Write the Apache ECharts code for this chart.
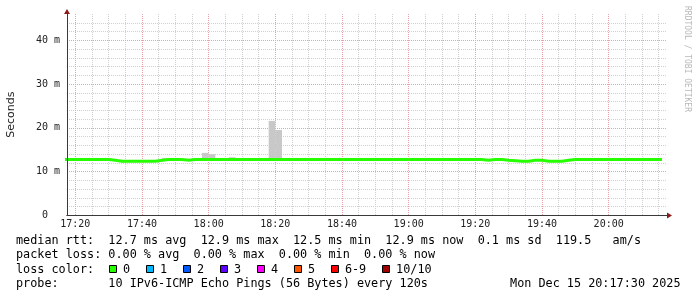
<!DOCTYPE html>
<html><head><meta charset="utf-8">
<script src="https://cdn.jsdelivr.net/npm/echarts@6/dist/echarts.min.js"></script>
<style>html,body{margin:0;padding:0;background:#fff}#c{width:697px;height:297px}</style>
</head><body><div id="c"></div>
<script>
// ---------- data ----------
const firstSampleTime = '17:16';       // time of first median sample (end of its 120 s step)
const stepMinutes = 2;                  // probe every 120 s
const viewStart = '17:17:30';
const viewEnd = '20:17:30';
const medianRttMs = [
  12.8, 12.8, 12.8, 12.8, 12.8, 12.8, 12.8, 12.8, 12.6, 12.4,
  12.4, 12.4, 12.4, 12.4, 12.4, 12.6, 12.8, 12.8, 12.8, 12.6,
  12.8, 12.8, 12.8, 12.8, 12.8, 12.8, 12.8, 12.8, 12.8, 12.8,
  12.8, 12.8, 12.8, 12.8, 12.8, 12.8, 12.8, 12.8, 12.8, 12.8,
  12.8, 12.8, 12.8, 12.8, 12.8, 12.8, 12.8, 12.8, 12.8, 12.8,
  12.8, 12.8, 12.8, 12.8, 12.8, 12.8, 12.8, 12.8, 12.8, 12.8,
  12.8, 12.8, 12.8, 12.8, 12.6, 12.8, 12.8, 12.6, 12.5, 12.4,
  12.4, 12.6, 12.6, 12.4, 12.4, 12.4, 12.6, 12.8, 12.8, 12.8,
  12.8, 12.8, 12.8, 12.8, 12.8, 12.8, 12.8, 12.8, 12.8, 12.8,
  12.8
];
const smokeTimes = ['17:48', '18:00', '18:02', '18:08', '18:20', '18:22'];
const smokeMaxMs = [13.1, 14.3, 14.0, 13.3, 21.6, 19.5];
const yMaxMs = 46;
const yMinorStep = 2;
const yMajorStep = 10;
const xMinorStep = 5;
const xMajorStep = 20;

const statsLines = [
  'median rtt:  12.7 ms avg  12.9 ms max  12.5 ms min  12.9 ms now  0.1 ms sd  119.5   am/s',
  'packet loss: 0.00 % avg  0.00 % max  0.00 % min  0.00 % now',
  'loss color:',
  'probe:       10 IPv6-ICMP Echo Pings (56 Bytes) every 120s'
];
const dateText = 'Mon Dec 15 20:17:30 2025';
const lossLabels = ['0', '1', '2', '3', '4', '5', '6-9', '10/10'];
const lossColors = ['#26ff00', '#00b8ff', '#0059ff', '#5e00ff', '#ff00fe', '#ff5500', '#ff0000', '#a10000'];
const watermark = 'RRDTOOL / TOBI OETIKER';

// ---------- helpers ----------
function toMinutes(s) {
  const p = s.split(':').map(Number);
  return p[0] * 60 + p[1] + (p[2] || 0) / 60;
}
function fmtTime(v) {
  const h = Math.floor(v / 60), m = Math.round(v - h * 60);
  return String(h).padStart(2, '0') + ':' + String(m).padStart(2, '0');
}
const t0 = toMinutes(firstSampleTime);
const xMin = toMinutes(viewStart), xMax = toMinutes(viewEnd);
const lineData = medianRttMs.map((v, i) => [t0 + i * stepMinutes, v]);
const smokeData = smokeTimes.map((s, i) => {
  const t = toMinutes(s);
  const med = medianRttMs[Math.round((t - t0) / stepMinutes)];
  return [t, med, smokeMaxMs[i]];
});

const monoFont = 'DejaVu Sans Mono';
const minorGrid = { color: '#cfcfcf', type: [1, 1], width: 1 };
const majorGrid = { color: '#e6a4a4', type: [1, 1], width: 1 };
const axisDark = '#3a3a3a';
const arrowRed = '#8c1c1c';

// ---------- legend graphics ----------
const charW = 7.1, legendX = 16;
const rowY = [241, 255, 269.5, 283.5];
const graphics = [];
statsLines.forEach((t, i) => graphics.push({
  type: 'text', x: legendX, y: rowY[i],
  style: { text: t, fontFamily: monoFont, fontSize: 11.8, fill: '#000', textAlign: 'left', textVerticalAlign: 'middle' }
}));
graphics.push({
  type: 'text', x: 680.5, y: rowY[3],
  style: { text: dateText, fontFamily: monoFont, fontSize: 11.8, fill: '#000', textAlign: 'right', textVerticalAlign: 'middle' }
});
let bx = legendX + 13 * charW;
lossLabels.forEach((lab, i) => {
  graphics.push({
    type: 'rect', shape: { x: Math.round(bx + 0.4) + 0.5, y: 265.5, width: 7, height: 7 },
    style: { fill: lossColors[i], stroke: '#000', lineWidth: 1 }
  });
  const lx = bx + 14.6;
  graphics.push({
    type: 'text', x: lx, y: rowY[2],
    style: { text: lab, fontFamily: monoFont, fontSize: 11.8, fill: '#000', textAlign: 'left', textVerticalAlign: 'middle' }
  });
  bx = lx + lab.length * charW + 15.3;
});
graphics.push({
  type: 'text', x: 687, y: 59, rotation: -Math.PI / 2,
  style: { text: watermark, fontFamily: monoFont, fontSize: 8, fill: '#b8b8b8', textAlign: 'center', textVerticalAlign: 'middle' }
});

// ---------- chart ----------
const chart = echarts.init(document.getElementById('c'), null, { renderer: 'canvas' });
const off = { show: false };
chart.setOption({
  animation: false,
  backgroundColor: '#fff',
  grid: { left: 67, top: 14, width: 600, height: 201.5, containLabel: false, outerBoundsMode: 'none' },
  xAxis: [
    { type: 'value', position: 'bottom', min: xMin, max: xMax, splitNumber: 36, minInterval: xMinorStep, maxInterval: xMinorStep,
      axisLine: off, axisTick: off, axisLabel: off, z: 0,
      splitLine: { show: true, showMinLine: false, showMaxLine: false, lineStyle: minorGrid } },
    { type: 'value', position: 'bottom', min: xMin, max: xMax, splitNumber: 9, minInterval: xMajorStep, maxInterval: xMajorStep, z: 1,
      axisLine: { show: true, onZero: false, symbol: ['none', 'triangle'], symbolSize: [6, 5], symbolOffset: [0, 2.5], lineStyle: { color: arrowRed, width: 1 } },
      axisTick: off,
      axisLabel: { show: true, showMinLabel: false, showMaxLabel: false, margin: 4, fontFamily: monoFont, fontSize: 10, color: '#222',
        formatter: v => (Math.abs(v % xMajorStep) < 1e-6 ? fmtTime(v) : '') },
      splitLine: { show: true, showMinLine: false, showMaxLine: false, lineStyle: majorGrid } },
    { type: 'value', position: 'bottom', min: xMin, max: xMax, z: 5,
      axisLine: { show: true, onZero: false, lineStyle: { color: axisDark, width: 1 } }, axisTick: off, axisLabel: off, splitLine: off }
  ],
  yAxis: [
    { type: 'value', position: 'left', min: 0, max: yMaxMs, interval: yMinorStep, z: 0,
      axisLine: off, axisTick: off, axisLabel: off,
      splitLine: { show: true, showMinLine: false, showMaxLine: false, lineStyle: minorGrid } },
    { type: 'value', position: 'left', min: 0, max: yMaxMs, interval: yMajorStep, z: 1,
      name: 'Seconds', nameLocation: 'middle', nameRotate: 90, nameGap: 50,
      nameTextStyle: { fontFamily: 'DejaVu Sans', fontSize: 11, color: '#222' },
      axisLine: { show: true, onZero: false, symbol: ['none', 'triangle'], symbolSize: [6, 5], symbolOffset: [0, 2.5], lineStyle: { color: arrowRed, width: 1 } },
      axisTick: off,
      axisLabel: { show: true, showMaxLabel: false, margin: 7, fontFamily: monoFont, fontSize: 10, color: '#222',
        formatter: v => (v === 0 ? '0  ' : v + ' m') },
      splitLine: { show: true, showMinLine: false, showMaxLine: false, lineStyle: majorGrid } },
    { type: 'value', position: 'left', min: 0, max: yMaxMs, z: 5,
      axisLine: { show: true, onZero: false, lineStyle: { color: axisDark, width: 1 } }, axisTick: off, axisLabel: off, splitLine: off }
  ],
  series: [
    { type: 'custom', name: 'smoke', xAxisIndex: 0, yAxisIndex: 0, z: 2, data: smokeData,
      encode: { x: 0, y: [1, 2] },
      renderItem: function (params, api) {
        const t = api.value(0), lo = api.value(1), hi = api.value(2);
        const p0 = api.coord([t - stepMinutes, hi]);
        const p1 = api.coord([t, lo]);
        return { type: 'rect', shape: { x: p0[0], y: p0[1], width: p1[0] - p0[0], height: p1[1] - p0[1] },
                 style: { fill: '#c8c8c8' } };
      } },
    { type: 'line', name: 'median rtt', xAxisIndex: 0, yAxisIndex: 0, z: 3, data: lineData,
      step: 'start', showSymbol: false, symbol: 'none', clip: true,
      lineStyle: { color: '#26ff00', width: 3, join: 'miter', cap: 'butt' } }
  ],
  graphic: graphics
});
</script></body></html>
